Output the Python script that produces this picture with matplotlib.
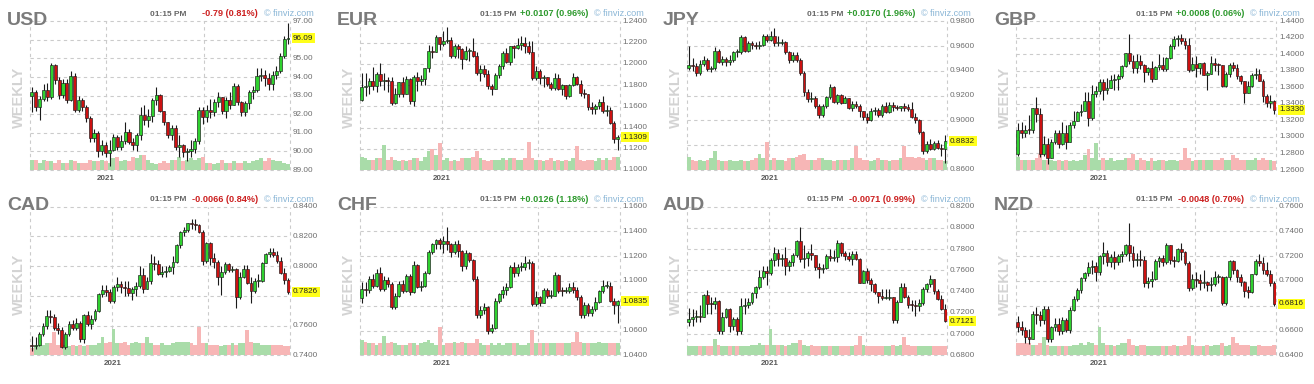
import matplotlib
matplotlib.use("Agg")
import matplotlib.pyplot as plt
import numpy as np

plt.rcParams['font.family'] = ['Liberation Sans', 'DejaVu Sans']

W, H = 1314, 384

# ---------------- DATA (weekly candles) ----------------
usd_open0 = 93.00
usd_close = [93.22, 92.37, 92.80, 93.33, 92.93, 94.64, 93.84, 93.06, 93.68, 92.77, 94.04, 92.23, 92.76, 92.39, 91.79, 90.70, 90.98, 90.02, 90.32, 89.94,
             90.10, 90.77, 90.23, 90.58, 91.03, 90.48, 90.36, 90.88, 91.98, 91.67, 91.92, 92.77, 93.01, 92.16, 91.56, 90.86, 91.28, 90.22, 90.32, 89.98,
             90.03, 90.13, 90.55, 92.23, 91.85, 92.23, 92.13, 92.68, 92.91, 92.17, 92.78, 92.52, 93.50, 92.67, 92.13, 92.58, 93.20, 93.29, 94.04, 94.09,
             93.96, 93.64, 94.12, 94.32, 95.13, 96.03, 96.09]
usd_high = [93.45, 93.3, 93.0, 93.6, 93.7, 94.75, 94.7, 94.0, 93.9, 93.9, 94.3, 94.2, 93.0, 92.9, 92.5, 91.9, 91.2, 91.1, 90.6, 90.5,
            90.6, 90.95, 90.9, 90.9, 91.6, 91.2, 90.7, 91.0, 92.4, 92.5, 92.3, 92.9, 93.45, 93.1, 92.2, 91.6, 91.4, 91.4, 90.9, 90.4,
            90.2, 90.6, 90.7, 92.4, 92.4, 92.5, 92.8, 92.8, 93.2, 92.95, 92.95, 93.2, 93.7, 93.6, 92.7, 92.7, 93.3, 93.5, 94.5, 94.5,
            94.4, 94.2, 94.3, 94.6, 95.3, 96.2, 96.9]
usd_low = [92.1, 92.2, 91.7, 92.7, 92.7, 92.8, 93.6, 92.8, 92.9, 92.6, 92.7, 92.1, 92.1, 92.2, 91.6, 90.5, 90.5, 89.7, 89.8, 89.7,
           89.2, 90.0, 90.1, 90.1, 90.4, 90.4, 90.1, 90.0, 90.6, 91.4, 91.3, 91.6, 92.5, 92.1, 91.4, 90.7, 90.6, 90.1, 89.7, 89.7,
           89.5, 89.7, 89.9, 90.4, 91.5, 91.6, 91.8, 91.9, 92.4, 92.0, 91.8, 92.3, 92.5, 92.5, 91.9, 91.9, 92.3, 92.8, 93.2, 93.8,
           93.5, 93.3, 93.3, 93.9, 94.2, 95.0, 95.8]
usd_vol = [7, 7, 5, 7, 6, 6, 5, 7, 5, 5, 7, 6, 5, 5, 5, 7, 6, 6, 7, 6, 5, 8, 9, 6, 7, 6, 9, 8, 10, 10,
           7, 5, 4, 5, 6, 5, 7, 7, 9, 6, 7, 8, 7, 8, 9, 5, 5, 4, 5, 7, 5, 5, 6, 5, 5, 6, 5, 6, 7, 8,
           6, 8, 7, 6, 6, 5, 4]

eur_open0 = 1.1657
eur_close = [1.1778, 1.1787, 1.1842, 1.1795, 1.1903, 1.1838, 1.1846, 1.1840, 1.1632, 1.1716, 1.1827, 1.1717, 1.1860, 1.1647, 1.1875, 1.1834, 1.1856, 1.1963, 1.2121, 1.2110,
             1.2255, 1.2187, 1.2216, 1.2220, 1.2078, 1.2170, 1.2136, 1.2046, 1.2118, 1.2119, 1.2075, 1.1915, 1.1952, 1.1905, 1.1795, 1.1762, 1.1899, 1.1983, 1.2097, 1.2020,
             1.2165, 1.2146, 1.2180, 1.2192, 1.2167, 1.2107, 1.1864, 1.1936, 1.1862, 1.1875, 1.1809, 1.1771, 1.1870, 1.1761, 1.1796, 1.1697, 1.1796, 1.1880, 1.1813, 1.1726,
             1.1718, 1.1596, 1.1571, 1.1600, 1.1644, 1.1558, 1.1567, 1.1445, 1.1289, 1.1309]
eur_high = [1.1909, 1.1916, 1.1865, 1.1966, 1.1925, 1.2011, 1.1917, 1.1872, 1.1873, 1.1770, 1.1831, 1.1880, 1.1881, 1.1870, 1.1891, 1.1920, 1.1892, 1.1965, 1.2177, 1.2163,
            1.2273, 1.2250, 1.2310, 1.2349, 1.2250, 1.2190, 1.2190, 1.2148, 1.2169, 1.2144, 1.2243, 1.2114, 1.1990, 1.1990, 1.1945, 1.1810, 1.1915, 1.1994, 1.2117, 1.2150,
            1.2172, 1.2180, 1.2245, 1.2266, 1.2255, 1.2219, 1.2218, 1.1975, 1.1951, 1.1895, 1.1880, 1.1833, 1.1909, 1.1900, 1.1806, 1.1803, 1.1807, 1.1909, 1.1885, 1.1848,
            1.1767, 1.1720, 1.1640, 1.1624, 1.1669, 1.1692, 1.1616, 1.1592, 1.1464, 1.1330]
eur_low = [1.1650, 1.1696, 1.1711, 1.1753, 1.1737, 1.1790, 1.1753, 1.1737, 1.1612, 1.1625, 1.1689, 1.1689, 1.1720, 1.1622, 1.1603, 1.1745, 1.1801, 1.1800, 1.1924, 1.2059,
           1.2126, 1.2130, 1.2165, 1.2192, 1.2054, 1.2054, 1.2058, 1.1952, 1.2036, 1.2023, 1.2065, 1.1894, 1.1835, 1.1873, 1.1763, 1.1704, 1.1760, 1.1870, 1.1950, 1.2005,
           1.1986, 1.2052, 1.2137, 1.2133, 1.2103, 1.2093, 1.1847, 1.1848, 1.1807, 1.1782, 1.1795, 1.1752, 1.1756, 1.1753, 1.1705, 1.1665, 1.1690, 1.1790, 1.1801, 1.1700,
           1.1682, 1.1563, 1.1529, 1.1525, 1.1573, 1.1535, 1.1513, 1.1432, 1.1250, 1.1185]
eur_vol = [9, 8, 7, 7, 8, 8, 17, 7, 9, 7, 6, 7, 6, 7, 8, 8, 6, 9, 13, 14, 10, 18, 7, 8, 6, 7, 6, 8, 8, 8,
           9, 13, 8, 7, 6, 7, 7, 7, 8, 7, 8, 8, 7, 7, 8, 19, 8, 7, 7, 6, 7, 8, 6, 7, 6, 7, 6, 8, 16, 7,
           6, 7, 7, 6, 8, 7, 8, 7, 9, 9]

jpy_open0 = 0.9422
jpy_close = [0.9449, 0.9441, 0.9381, 0.9452, 0.9490, 0.9413, 0.9421, 0.9564, 0.9471, 0.9496, 0.9468, 0.9488, 0.9550, 0.9555, 0.9675, 0.9559, 0.9628, 0.9607, 0.9601, 0.9612,
             0.9681, 0.9651, 0.9685, 0.9621, 0.9628, 0.9636, 0.9553, 0.9489, 0.9529, 0.9484, 0.9384, 0.9230, 0.9172, 0.9184, 0.9119, 0.9042, 0.9120, 0.9193, 0.9270, 0.9148,
             0.9208, 0.9144, 0.9178, 0.9103, 0.9130, 0.9119, 0.9074, 0.9029, 0.9005, 0.9078, 0.9085, 0.9046, 0.9114, 0.9070, 0.9125, 0.9109, 0.9104, 0.9114, 0.9097, 0.9096,
             0.9030, 0.9005, 0.8909, 0.8755, 0.8813, 0.8772, 0.8818, 0.8780, 0.8771, 0.8832]
jpy_high = [0.9598, 0.9500, 0.9460, 0.9490, 0.9520, 0.9500, 0.9440, 0.9590, 0.9580, 0.9520, 0.9510, 0.9530, 0.9560, 0.9580, 0.9690, 0.9680, 0.9640, 0.9640, 0.9630, 0.9640,
            0.9700, 0.9700, 0.9720, 0.9748, 0.9680, 0.9660, 0.9640, 0.9560, 0.9550, 0.9550, 0.9500, 0.9400, 0.9250, 0.9230, 0.9200, 0.9130, 0.9135, 0.9200, 0.9295, 0.9280,
            0.9215, 0.9215, 0.9200, 0.9185, 0.9160, 0.9160, 0.9130, 0.9080, 0.9060, 0.9100, 0.9110, 0.9100, 0.9130, 0.9145, 0.9145, 0.9150, 0.9125, 0.9120, 0.9140, 0.9130,
            0.9150, 0.9060, 0.9010, 0.8915, 0.8830, 0.8850, 0.8830, 0.8845, 0.8810, 0.8880]
jpy_low = [0.9410, 0.9400, 0.9360, 0.9370, 0.9440, 0.9400, 0.9390, 0.9410, 0.9460, 0.9450, 0.9440, 0.9450, 0.9470, 0.9510, 0.9540, 0.9550, 0.9550, 0.9580, 0.9580, 0.9580,
           0.9600, 0.9630, 0.9640, 0.9600, 0.9600, 0.9610, 0.9540, 0.9460, 0.9470, 0.9470, 0.9370, 0.9200, 0.9150, 0.9150, 0.9100, 0.9020, 0.9030, 0.9100, 0.9170, 0.9140,
           0.9130, 0.9130, 0.9140, 0.9090, 0.9080, 0.9100, 0.9030, 0.9000, 0.8980, 0.8995, 0.9040, 0.9030, 0.9030, 0.9060, 0.9060, 0.9080, 0.9085, 0.9080, 0.9080, 0.9080,
           0.9020, 0.8980, 0.8890, 0.8730, 0.8740, 0.8760, 0.8760, 0.8770, 0.8710, 0.8656]
jpy_vol = [9, 7, 6, 7, 6, 7, 8, 13, 7, 6, 6, 7, 6, 6, 7, 6, 6, 7, 8, 11, 8, 19, 7, 8, 7, 7, 6, 8, 8, 9,
           10, 11, 7, 7, 7, 8, 8, 7, 7, 6, 7, 7, 7, 7, 8, 16, 8, 7, 7, 6, 7, 8, 7, 7, 6, 7, 7, 8, 16, 9,
           9, 8, 9, 8, 7, 8, 8, 7, 7, 6]

gbp_open0 = 1.2793
gbp_close = [1.3084, 1.3053, 1.3090, 1.3086, 1.3350, 1.3278, 1.2795, 1.2918, 1.2748, 1.2944, 1.3047, 1.2915, 1.3042, 1.2944, 1.3150, 1.3190, 1.3307, 1.3315, 1.3440, 1.3225,
             1.3517, 1.3555, 1.3670, 1.3566, 1.3590, 1.3686, 1.3707, 1.3732, 1.3855, 1.4011, 1.3925, 1.3838, 1.3923, 1.3869, 1.3785, 1.3830, 1.3704, 1.3842, 1.3872, 1.3820,
             1.3953, 1.4095, 1.4181, 1.4197, 1.4157, 1.4110, 1.3805, 1.3880, 1.3830, 1.3890, 1.3756, 1.3761, 1.3900, 1.3876, 1.3866, 1.3622, 1.3761, 1.3865, 1.3838, 1.3735,
             1.3675, 1.3535, 1.3617, 1.3745, 1.3757, 1.3681, 1.3497, 1.3411, 1.3440, 1.3330]
gbp_high = [1.3170, 1.3185, 1.3145, 1.3270, 1.3355, 1.3482, 1.3345, 1.3008, 1.2985, 1.2975, 1.3083, 1.3083, 1.3177, 1.3140, 1.3177, 1.3313, 1.3310, 1.3398, 1.3540, 1.3540,
            1.3625, 1.3620, 1.3705, 1.3703, 1.3712, 1.3745, 1.3760, 1.3760, 1.3866, 1.4017, 1.4241, 1.3988, 1.4000, 1.3987, 1.3887, 1.3845, 1.3918, 1.3858, 1.4010, 1.3972,
            1.3965, 1.4123, 1.4218, 1.4234, 1.4250, 1.4196, 1.4200, 1.3971, 1.3975, 1.3897, 1.3911, 1.3802, 1.3983, 1.3959, 1.3892, 1.3857, 1.3784, 1.3890, 1.3912, 1.3887,
            1.3749, 1.3573, 1.3674, 1.3773, 1.3834, 1.3825, 1.3700, 1.3520, 1.3513, 1.3450]
gbp_low = [1.2770, 1.2985, 1.3005, 1.3040, 1.3050, 1.3180, 1.2763, 1.2770, 1.2675, 1.2740, 1.2910, 1.2865, 1.2905, 1.2855, 1.2950, 1.3108, 1.3195, 1.3250, 1.3312, 1.3135,
           1.3200, 1.3480, 1.3520, 1.3450, 1.3520, 1.3590, 1.3565, 1.3565, 1.3710, 1.3850, 1.3880, 1.3780, 1.3780, 1.3820, 1.3670, 1.3750, 1.3670, 1.3700, 1.3810, 1.3800,
           1.3800, 1.3940, 1.4070, 1.4100, 1.4130, 1.4070, 1.3786, 1.3800, 1.3730, 1.3760, 1.3750, 1.3570, 1.3760, 1.3800, 1.3750, 1.3602, 1.3600, 1.3730, 1.3800, 1.3700,
           1.3640, 1.3412, 1.3550, 1.3600, 1.3700, 1.3680, 1.3425, 1.3360, 1.3350, 1.3278]
gbp_vol = [9, 7, 7, 7, 7, 8, 11, 7, 7, 7, 6, 7, 6, 7, 6, 7, 6, 7, 10, 14, 8, 18, 7, 8, 7, 8, 6, 7, 7, 8,
           8, 11, 7, 8, 7, 6, 8, 6, 7, 7, 6, 7, 7, 6, 7, 15, 8, 6, 7, 7, 7, 7, 7, 7, 7, 8, 7, 7, 10, 8,
           7, 7, 7, 7, 8, 7, 8, 7, 7, 6]

cad_open0 = 0.7472
cad_close = [0.7463, 0.7468, 0.7544, 0.7594, 0.7666, 0.7658, 0.7584, 0.7570, 0.7457, 0.7545, 0.7613, 0.7584, 0.7619, 0.7508, 0.7669, 0.7610, 0.7647, 0.7699, 0.7811, 0.7840,
             0.7828, 0.7768, 0.7858, 0.7880, 0.7858, 0.7855, 0.7819, 0.7846, 0.7865, 0.7940, 0.7849, 0.7902, 0.8019, 0.8016, 0.7949, 0.7959, 0.7968, 0.7997, 0.8026, 0.8140,
             0.8230, 0.8244, 0.8288, 0.8282, 0.8275, 0.8227, 0.8035, 0.8153, 0.8058, 0.8029, 0.7927, 0.7962, 0.8016, 0.7971, 0.7981, 0.7791, 0.7930, 0.7978, 0.7886, 0.7834,
             0.7899, 0.7899, 0.8023, 0.8081, 0.8097, 0.8078, 0.8035, 0.7955, 0.7908, 0.7826]
cad_high = [0.7530, 0.7520, 0.7560, 0.7620, 0.7705, 0.7705, 0.7680, 0.7620, 0.7590, 0.7560, 0.7628, 0.7640, 0.7650, 0.7630, 0.7680, 0.7700, 0.7670, 0.7710, 0.7820, 0.7870,
            0.7870, 0.7845, 0.7870, 0.7925, 0.7900, 0.7900, 0.7900, 0.7860, 0.7890, 0.8000, 0.7990, 0.7925, 0.8085, 0.8070, 0.8040, 0.8000, 0.8000, 0.8005, 0.8070, 0.8150,
            0.8235, 0.8265, 0.8290, 0.8320, 0.8320, 0.8285, 0.8240, 0.8160, 0.8160, 0.8090, 0.8040, 0.8000, 0.8030, 0.8020, 0.8000, 0.7990, 0.7960, 0.8010, 0.8010, 0.7930,
            0.7920, 0.7950, 0.8030, 0.8090, 0.8120, 0.8120, 0.8105, 0.8060, 0.7990, 0.7920]
cad_low = [0.7430, 0.7440, 0.7460, 0.7530, 0.7580, 0.7620, 0.7570, 0.7540, 0.7450, 0.7440, 0.7530, 0.7570, 0.7570, 0.7490, 0.7480, 0.7600, 0.7580, 0.7630, 0.7690, 0.7790,
           0.7800, 0.7750, 0.7750, 0.7830, 0.7820, 0.7800, 0.7800, 0.7770, 0.7800, 0.7850, 0.7820, 0.7850, 0.7880, 0.7975, 0.7940, 0.7930, 0.7930, 0.7960, 0.7950, 0.8020,
           0.8120, 0.8200, 0.8230, 0.8250, 0.8240, 0.8220, 0.8010, 0.8020, 0.8010, 0.7990, 0.7875, 0.7808, 0.7950, 0.7960, 0.7960, 0.7720, 0.7780, 0.7920, 0.7880, 0.7750,
           0.7820, 0.7860, 0.7890, 0.8020, 0.8060, 0.8060, 0.8020, 0.7950, 0.7880, 0.7810]
cad_vol = [5, 6, 7, 7, 8, 8, 16, 7, 8, 7, 6, 7, 6, 7, 6, 7, 7, 7, 8, 12, 8, 9, 18, 8, 8, 9, 7, 8, 9, 8,
           8, 12, 8, 7, 7, 8, 7, 7, 8, 9, 9, 9, 9, 8, 7, 19, 8, 8, 7, 7, 7, 6, 7, 7, 8, 7, 8, 8, 17, 9,
           8, 8, 7, 7, 7, 7, 7, 7, 6, 6]

chf_open0 = 1.0864
chf_close = [1.0935, 1.0929, 1.1013, 1.0959, 1.1068, 1.0935, 1.1007, 1.0977, 1.0793, 1.0875, 1.0977, 1.0923, 1.1044, 1.0911, 1.1130, 1.0953, 1.0959, 1.1068, 1.1236, 1.1300,
             1.1330, 1.1300, 1.1325, 1.1300, 1.1235, 1.1300, 1.1240, 1.1120, 1.1230, 1.1167, 1.1019, 1.0724, 1.0764, 1.0787, 1.0593, 1.0621, 1.0840, 1.0893, 1.0929, 1.0953,
             1.1117, 1.1062, 1.1111, 1.1117, 1.1142, 1.1142, 1.0811, 1.0870, 1.0823, 1.0929, 1.0881, 1.0881, 1.1050, 1.0923, 1.0917, 1.0923, 1.0953, 1.0929, 1.0870, 1.0724,
             1.0805, 1.0741, 1.0770, 1.0828, 1.0917, 1.0959, 1.0959, 1.0840, 1.0805, 1.0835]
chf_high = [1.0990, 1.0990, 1.1040, 1.1060, 1.1100, 1.1110, 1.1040, 1.1030, 1.0990, 1.0900, 1.1000, 1.1010, 1.1060, 1.1060, 1.1160, 1.1140, 1.1000, 1.1080, 1.1250, 1.1310,
            1.1340, 1.1345, 1.1360, 1.1436, 1.1310, 1.1320, 1.1330, 1.1250, 1.1250, 1.1235, 1.1180, 1.1040, 1.0800, 1.0820, 1.0800, 1.0650, 1.0860, 1.0900, 1.0960, 1.0980,
            1.1130, 1.1150, 1.1140, 1.1150, 1.1200, 1.1180, 1.1160, 1.0920, 1.0880, 1.0940, 1.0940, 1.0930, 1.1070, 1.1060, 1.0950, 1.0950, 1.0980, 1.0990, 1.0950, 1.0890,
            1.0830, 1.0820, 1.0800, 1.0870, 1.0930, 1.1010, 1.1000, 1.0990, 1.0860, 1.0850]
chf_low = [1.0820, 1.0880, 1.0900, 1.0940, 1.0950, 1.0920, 1.0920, 1.0950, 1.0770, 1.0770, 1.0870, 1.0900, 1.0910, 1.0890, 1.0900, 1.0940, 1.0920, 1.0950, 1.1060, 1.1220,
           1.1260, 1.1260, 1.1230, 1.1250, 1.1190, 1.1220, 1.1190, 1.1080, 1.1100, 1.1150, 1.1000, 1.0700, 1.0700, 1.0730, 1.0570, 1.0580, 1.0610, 1.0820, 1.0860, 1.0890,
           1.0940, 1.1030, 1.1040, 1.1080, 1.1090, 1.1100, 1.0800, 1.0800, 1.0800, 1.0820, 1.0860, 1.0860, 1.0880, 1.0900, 1.0880, 1.0900, 1.0900, 1.0900, 1.0850, 1.0700,
           1.0700, 1.0720, 1.0720, 1.0760, 1.0820, 1.0900, 1.0940, 1.0830, 1.0730, 1.0660]
chf_vol = [10, 9, 8, 8, 7, 8, 13, 8, 9, 8, 7, 7, 7, 8, 8, 7, 8, 9, 10, 8, 7, 19, 7, 8, 8, 9, 8, 9, 8, 8,
           8, 11, 8, 7, 7, 8, 7, 8, 7, 8, 8, 8, 8, 7, 7, 8, 17, 8, 8, 8, 8, 8, 8, 8, 8, 8, 8, 9, 16, 9,
           8, 8, 8, 8, 9, 8, 8, 8, 8, 8]

aud_open0 = 0.7110
aud_close = [0.7143, 0.7165, 0.7170, 0.7160, 0.7370, 0.7285, 0.7280, 0.7310, 0.7025, 0.7165, 0.7235, 0.7080, 0.7140, 0.7025, 0.7265, 0.7275, 0.7300, 0.7385, 0.7440, 0.7535,
             0.7595, 0.7580, 0.7700, 0.7760, 0.7710, 0.7715, 0.7645, 0.7675, 0.7745, 0.7875, 0.7705, 0.7715, 0.7765, 0.7745, 0.7630, 0.7610, 0.7620, 0.7740, 0.7720, 0.7730,
             0.7855, 0.7765, 0.7740, 0.7710, 0.7750, 0.7710, 0.7480, 0.7590, 0.7510, 0.7470, 0.7400, 0.7360, 0.7340, 0.7340, 0.7345, 0.7130, 0.7300, 0.7440, 0.7350, 0.7275,
             0.7270, 0.7265, 0.7290, 0.7420, 0.7470, 0.7520, 0.7405, 0.7335, 0.7235, 0.7121]
aud_high = [0.7242, 0.7235, 0.7230, 0.7276, 0.7379, 0.7414, 0.7345, 0.7345, 0.7320, 0.7210, 0.7245, 0.7245, 0.7160, 0.7160, 0.7340, 0.7340, 0.7340, 0.7400, 0.7450, 0.7600,
            0.7640, 0.7640, 0.7720, 0.7820, 0.7800, 0.7750, 0.7820, 0.7700, 0.7760, 0.7890, 0.8007, 0.7840, 0.7780, 0.7850, 0.7740, 0.7670, 0.7660, 0.7750, 0.7800, 0.7790,
            0.7890, 0.7870, 0.7780, 0.7770, 0.7780, 0.7780, 0.7720, 0.7600, 0.7620, 0.7530, 0.7480, 0.7400, 0.7420, 0.7420, 0.7420, 0.7330, 0.7320, 0.7480, 0.7480, 0.7370,
            0.7320, 0.7320, 0.7330, 0.7440, 0.7480, 0.7555, 0.7520, 0.7420, 0.7370, 0.7280]
aud_low = [0.7075, 0.7080, 0.7110, 0.7110, 0.7160, 0.7190, 0.7190, 0.7240, 0.7005, 0.7000, 0.7150, 0.7020, 0.7040, 0.6990, 0.7000, 0.7190, 0.7250, 0.7280, 0.7340, 0.7420,
           0.7520, 0.7460, 0.7560, 0.7640, 0.7640, 0.7640, 0.7560, 0.7590, 0.7640, 0.7730, 0.7680, 0.7620, 0.7640, 0.7700, 0.7600, 0.7530, 0.7580, 0.7610, 0.7690, 0.7690,
           0.7680, 0.7740, 0.7700, 0.7690, 0.7650, 0.7700, 0.7480, 0.7480, 0.7480, 0.7410, 0.7380, 0.7290, 0.7320, 0.7330, 0.7320, 0.7105, 0.7100, 0.7300, 0.7340, 0.7250,
           0.7220, 0.7170, 0.7220, 0.7270, 0.7400, 0.7440, 0.7380, 0.7320, 0.7230, 0.7110]
aud_vol = [6, 6, 6, 6, 6, 6, 6, 11, 7, 6, 6, 6, 6, 6, 6, 6, 6, 7, 7, 8, 7, 7, 18, 7, 7, 7, 6, 7, 8, 8,
           10, 7, 6, 7, 6, 6, 6, 6, 6, 6, 6, 6, 6, 6, 6, 7, 13, 7, 6, 6, 6, 6, 6, 6, 6, 7, 6, 7, 12, 7,
           6, 6, 6, 6, 6, 6, 6, 6, 6, 6]

nzd_open0 = 0.6665
nzd_close = [0.6630, 0.6605, 0.6545, 0.6535, 0.6735, 0.6725, 0.6685, 0.6770, 0.6535, 0.6625, 0.6655, 0.6595, 0.6685, 0.6605, 0.6765, 0.6855, 0.6925, 0.7025, 0.7065, 0.7110,
             0.7120, 0.7070, 0.7200, 0.7225, 0.7150, 0.7195, 0.7150, 0.7200, 0.7215, 0.7290, 0.7230, 0.7170, 0.7180, 0.7170, 0.6985, 0.7000, 0.7020, 0.7165, 0.7185, 0.7150,
             0.7290, 0.7170, 0.7165, 0.7255, 0.7235, 0.7145, 0.6945, 0.7020, 0.7010, 0.6985, 0.6995, 0.6970, 0.6975, 0.7035, 0.7035, 0.6820, 0.7030, 0.7165, 0.7090, 0.7035,
             0.6995, 0.6920, 0.6915, 0.7060, 0.7165, 0.7145, 0.7090, 0.7060, 0.6985, 0.6816]
nzd_high = [0.6720, 0.6680, 0.6630, 0.6610, 0.6760, 0.6790, 0.6760, 0.6800, 0.6800, 0.6640, 0.6700, 0.6700, 0.6710, 0.6700, 0.6790, 0.6880, 0.6940, 0.7030, 0.7075, 0.7150,
            0.7170, 0.7150, 0.7210, 0.7315, 0.7250, 0.7220, 0.7240, 0.7220, 0.7240, 0.7300, 0.7465, 0.7280, 0.7230, 0.7250, 0.7200, 0.7030, 0.7080, 0.7180, 0.7200, 0.7210,
            0.7305, 0.7290, 0.7200, 0.7270, 0.7310, 0.7240, 0.7160, 0.7060, 0.7070, 0.7060, 0.7090, 0.7000, 0.7030, 0.7080, 0.7060, 0.7040, 0.7040, 0.7170, 0.7170, 0.7100,
            0.7060, 0.7000, 0.6960, 0.7060, 0.7180, 0.7220, 0.7190, 0.7150, 0.7090, 0.7000]
nzd_low = [0.6590, 0.6560, 0.6500, 0.6490, 0.6530, 0.6650, 0.6640, 0.6650, 0.6510, 0.6510, 0.6600, 0.6560, 0.6570, 0.6590, 0.6580, 0.6760, 0.6840, 0.6900, 0.7000, 0.7040,
           0.7060, 0.7000, 0.7050, 0.7140, 0.7120, 0.7110, 0.7100, 0.7130, 0.7150, 0.7200, 0.7160, 0.7110, 0.7120, 0.7120, 0.6950, 0.6940, 0.6950, 0.7010, 0.7110, 0.7120,
           0.7140, 0.7140, 0.7110, 0.7150, 0.7170, 0.7130, 0.6920, 0.6930, 0.6950, 0.6930, 0.6940, 0.6920, 0.6920, 0.6960, 0.6980, 0.6808, 0.6810, 0.7010, 0.7060, 0.6990,
           0.6960, 0.6870, 0.6860, 0.6900, 0.7050, 0.7120, 0.7060, 0.7040, 0.6960, 0.6800]
nzd_vol = [8, 8, 8, 8, 7, 7, 8, 12, 7, 6, 6, 6, 6, 6, 6, 7, 7, 8, 7, 9, 8, 7, 19, 8, 7, 7, 6, 7, 8, 8,
           11, 7, 6, 7, 7, 6, 6, 6, 6, 6, 6, 6, 7, 6, 6, 7, 13, 7, 6, 6, 6, 7, 6, 7, 7, 8, 6, 7, 12, 8,
           7, 7, 7, 6, 6, 7, 6, 6, 6, 7]

names = ['USD', 'EUR', 'JPY', 'GBP', 'CAD', 'CHF', 'AUD', 'NZD']
open0s = [usd_open0, eur_open0, jpy_open0, gbp_open0, cad_open0, chf_open0, aud_open0, nzd_open0]
closes = [usd_close, eur_close, jpy_close, gbp_close, cad_close, chf_close, aud_close, nzd_close]
highs = [usd_high, eur_high, jpy_high, gbp_high, cad_high, chf_high, aud_high, nzd_high]
lows = [usd_low, eur_low, jpy_low, gbp_low, cad_low, chf_low, aud_low, nzd_low]
vols = [usd_vol, eur_vol, jpy_vol, gbp_vol, cad_vol, chf_vol, aud_vol, nzd_vol]
y_ranges = [(89.0, 97.0, 1.0), (1.10, 1.24, 0.02), (0.86, 0.98, 0.02), (1.26, 1.44, 0.02),
            (0.74, 0.84, 0.02), (1.04, 1.16, 0.02), (0.68, 0.82, 0.02), (0.64, 0.76, 0.02)]
decimals = [2, 4, 4, 4, 4, 4, 4, 4]
changes = ['-0.79 (0.81%)', '+0.0107 (0.96%)', '+0.0170 (1.96%)', '+0.0008 (0.06%)',
           '-0.0066 (0.84%)', '+0.0126 (1.18%)', '-0.0071 (0.99%)', '-0.0048 (0.70%)']
time_label = '01:15 PM'
year_label = '2021'
# x (in week units) of the year / mid-year separator lines
year_line = [19.1, 21.5, 21.7, 21.8, 21.7, 21.5, 21.7, 21.7]
mid_line = [44.3, 47.6, 47.6, 47.7, 47.4, 47.6, 47.6, 47.6]

# ---------------- STYLE / LAYOUT ----------------
PLOT_X = [(30, 290), (360, 619.5), (687, 947), (1016, 1276)]
PLOT_Y = [(21.3, 170.0), (206.7, 355.3)]
TITLE_X = [7, 337, 663, 994]
TITLE_BASE = [25.0, 210.3]
HEADER_Y = [14.0, 199.5]
WEEKLY_X = [19, 349, 676, 1005]
WEEKLY_Y = [97.5, 284.5]

GRID = '#cbcbcb'
UP = '#2fd12f'
DN = '#cc1111'
VUP = '#a9dca9'
VDN = '#f7b6b6'
EDGE = '#1a1a1a'

fig = plt.figure(figsize=(W / 100, H / 100), dpi=100)
fig.patch.set_facecolor('white')


def fy(y):
    return 1 - y / H


for k in range(8):
    row, col = divmod(k, 4)
    px0, px1 = PLOT_X[col]
    py0, py1 = PLOT_Y[row]
    ax = fig.add_axes([px0 / W, 1 - py1 / H, (px1 - px0) / W, (py1 - py0) / H])
    ax.patch.set_alpha(0)
    for s in ax.spines.values():
        s.set_visible(False)
    ax.set_xticks([])
    ax.set_yticks([])

    c = np.array(closes[k], dtype=float)
    o = np.concatenate([[open0s[k]], c[:-1]])
    hi = np.maximum(np.array(highs[k], dtype=float), np.maximum(o, c))
    lo = np.minimum(np.array(lows[k], dtype=float), np.minimum(o, c))
    n = len(c)
    x = np.arange(n)
    ymin, ymax, step = y_ranges[k]
    ticks = np.round(np.arange(ymin, ymax + step / 2, step), 6)
    ax.set_xlim(-0.5, n - 0.5)
    ax.set_ylim(ymin, ymax)
    px_per_val = (py1 - py0) / (ymax - ymin)

    # grid
    for t in ticks:
        ax.axhline(t, color=GRID, lw=0.8, ls=(0, (3, 3)), zorder=0, clip_on=False)
    for xv in (-0.5, n - 0.5, year_line[k], mid_line[k]):
        ax.axvline(xv, color=GRID, lw=0.8, ls=(0, (3, 3)), zorder=0, clip_on=False)

    up = c >= o
    # volume
    vh = np.array(vols[k], dtype=float) / 100.0 * (ymax - ymin)
    ax.bar(x, vh, bottom=ymin, width=1.02, color=np.where(up, VUP, VDN), lw=0, zorder=1)
    # wicks
    ax.vlines(x, lo, hi, color=EDGE, lw=0.8, zorder=2)
    # bodies
    bb = np.minimum(o, c)
    bh = np.maximum(np.abs(c - o), (ymax - ymin) * 0.007)
    ax.bar(x, bh, bottom=bb, width=0.8, color=np.where(up, UP, DN), edgecolor=EDGE, lw=0.45, zorder=3)

    # y tick labels (hidden where the last-price box covers them)
    ytr = ax.get_yaxis_transform()
    dx = 3.0 / (px1 - px0)
    fmt = '{:.%df}' % decimals[k]
    for t in ticks:
        if abs(t - c[-1]) * px_per_val < 5.0:
            continue
        ax.text(1 + dx, t, fmt.format(t), transform=ytr, ha='left', va='center',
                fontsize=5.9, color='#6d6d6d', zorder=4)
    # last price box
    ax.text(1 + dx, c[-1], fmt.format(c[-1]), transform=ytr, ha='left', va='center',
            fontsize=5.9, color='#222222', zorder=6,
            bbox=dict(boxstyle='square,pad=0.18', facecolor='#ffff1a', edgecolor='none'))
    # year label
    ax.text(year_line[k], -(8.5 / (py1 - py0)), year_label, transform=ax.get_xaxis_transform(),
            ha='center', va='center', fontsize=5.8, weight='bold', color='#5a5a5a')

    # titles & header
    fig.text(TITLE_X[col] / W, fy(TITLE_BASE[row]), names[k], fontsize=14, weight='bold',
             color='#7b7b7b', ha='left', va='baseline')
    fig.text(WEEKLY_X[col] / W, fy(WEEKLY_Y[row]), 'WEEKLY', fontsize=10.5, weight='bold',
             color='#d3d3d3', rotation=90, ha='center', va='center')
    fig.text((px0 + 156) / W, fy(HEADER_Y[row]), time_label, fontsize=6.0, weight='bold',
             color='#666666', ha='right', va='center')
    ccol = '#cc1f1f' if changes[k].startswith('-') else '#2e9a2e'
    fig.text((px0 + 228) / W, fy(HEADER_Y[row]), changes[k], fontsize=6.6, weight='bold',
             color=ccol, ha='right', va='center')
    fig.text((px0 + 234) / W, fy(HEADER_Y[row]), '\u00a9 finviz.com', fontsize=6.6,
             color='#8ab6d6', ha='left', va='center')

fig.savefig('out.png', dpi=100, facecolor='white')
